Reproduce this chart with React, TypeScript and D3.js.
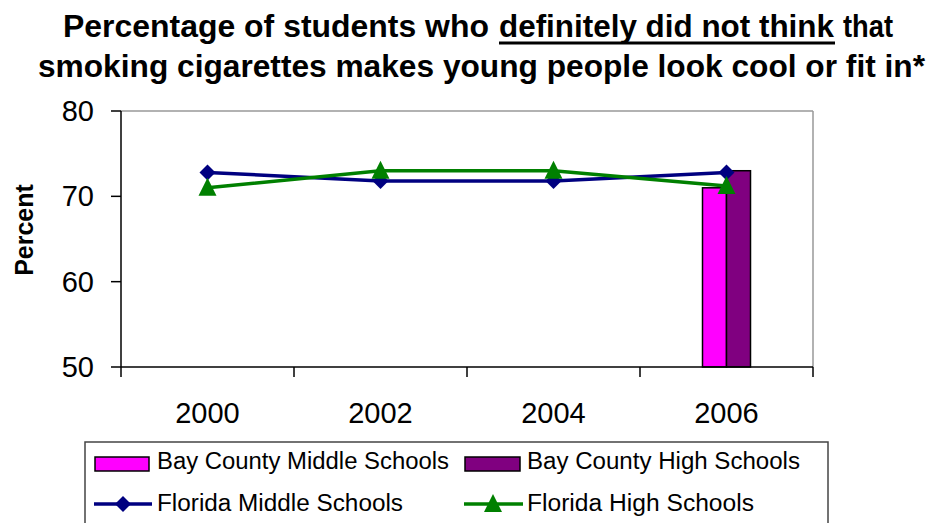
import React from "react";
import * as d3 from "d3";

const years = ["2000", "2002", "2004", "2006"];
const bayMiddle: (number | null)[] = [null, null, null, 71];
const bayHigh: (number | null)[] = [null, null, null, 73];
const flMiddle = [72.8, 71.8, 71.8, 72.8];
const flHigh = [71, 73, 73, 71.2];
const yTicks = [50, 60, 70, 80];

const W = 930, H = 523;
const L = 121, R = 813, T = 111, B = 367;
const font = "Liberation Sans, Arial, sans-serif";

export default function App() {
  const x = d3.scaleBand<string>().domain(years).range([L, R]).padding(0);
  const y = d3.scaleLinear().domain([50, 80]).range([B, T]);
  const cx = (i: number) => (x(years[i]) as number) + x.bandwidth() / 2;
  const barW = 24;
  const line = d3
    .line<number>()
    .x((_, i) => cx(i))
    .y((d) => y(d));
  const diamond = (px: number, py: number, s = 8) =>
    `M${px},${py - s}L${px + s},${py}L${px},${py + s}L${px - s},${py}Z`;
  const tri = (px: number, py: number, s = 9) =>
    `M${px},${py - s - 1}L${px + s},${py + s - 1}L${px - s},${py + s - 1}Z`;
  const tProps = { fontFamily: font, fontWeight: "bold" as const, fontSize: 31, lengthAdjust: "spacingAndGlyphs" };

  return (
    <svg width={W} height={H} style={{ position: "absolute", left: 0, top: 0, background: "#fff" }}>
      <text x={63} y={37} {...tProps} textLength={426}>Percentage of students who</text>
      <text x={499} y={37} {...tProps} textLength={335}>definitely did not think</text>
      <text x={843} y={37} {...tProps} textLength={50}>that</text>
      <line x1={499} x2={835} y1={43} y2={43} stroke="#000" strokeWidth={3} />
      <text x={38} y={77} {...tProps} textLength={887}>
        smoking cigarettes makes young people look cool or fit in*
      </text>

      {/* plot border */}
      <line x1={L} x2={R} y1={T} y2={T} stroke="#999" strokeWidth={1.5} />
      <line x1={R} x2={R} y1={T} y2={B} stroke="#999" strokeWidth={1.5} />

      {/* bars */}
      {years.map((yr, i) => (
        <g key={yr}>
          {bayMiddle[i] != null && (
            <rect x={cx(i) - barW} y={y(bayMiddle[i] as number)} width={barW} height={B - y(bayMiddle[i] as number)} fill="#FF00FF" stroke="#000" strokeWidth={1.5} />
          )}
          {bayHigh[i] != null && (
            <rect x={cx(i)} y={y(bayHigh[i] as number)} width={barW} height={B - y(bayHigh[i] as number)} fill="#800080" stroke="#000" strokeWidth={1.5} />
          )}
        </g>
      ))}

      {/* axes */}
      <line x1={L} x2={L} y1={T} y2={B} stroke="#000" strokeWidth={1.5} />
      <line x1={L} x2={R} y1={B} y2={B} stroke="#000" strokeWidth={1.5} />
      {yTicks.map((t) => (
        <g key={t}>
          <line x1={L - 10} x2={L} y1={y(t)} y2={y(t)} stroke="#000" strokeWidth={1.5} />
          <text x={94} y={y(t) + 10} textAnchor="end" fontFamily={font} fontSize={29}>
            {t}
          </text>
        </g>
      ))}
      {[...years.map((yr) => x(yr) as number), R].map((v, i) => (
        <line key={i} x1={v} x2={v} y1={B} y2={B + 10} stroke="#000" strokeWidth={1.5} />
      ))}
      {years.map((yr, i) => (
        <text key={yr} x={cx(i)} y={423} textAnchor="middle" fontFamily={font} fontSize={29}>
          {yr}
        </text>
      ))}
      <text transform="translate(33,230) rotate(-90)" textAnchor="middle" fontFamily={font} fontWeight="bold" fontSize={25}>
        Percent
      </text>

      {/* lines */}
      <path d={line(flMiddle) as string} fill="none" stroke="#000080" strokeWidth={3.5} />
      <path d={line(flHigh) as string} fill="none" stroke="#008000" strokeWidth={3.5} />
      {flMiddle.map((v, i) => (
        <path key={"m" + i} d={diamond(cx(i), y(v))} fill="#000080" />
      ))}
      {flHigh.map((v, i) => (
        <path key={"h" + i} d={tri(cx(i), y(v))} fill="#008000" />
      ))}

      {/* legend */}
      <rect x={85} y={442} width={743} height={90} fill="none" stroke="#444" strokeWidth={1.5} />
      <rect x={95} y={457} width={54} height={14} fill="#FF00FF" stroke="#000" strokeWidth={1.5} />
      <text x={157} y={469} fontFamily={font} fontSize={23} textLength={292} lengthAdjust="spacingAndGlyphs">Bay County Middle Schools</text>
      <rect x={465} y={457} width={55} height={14} fill="#800080" stroke="#000" strokeWidth={1.5} />
      <text x={527} y={469} fontFamily={font} fontSize={23} textLength={273} lengthAdjust="spacingAndGlyphs">Bay County High Schools</text>

      <line x1={94} x2={152} y1={504} y2={504} stroke="#000080" strokeWidth={3.5} />
      <path d={diamond(123, 504)} fill="#000080" />
      <text x={157} y={511} fontFamily={font} fontSize={23} textLength={246} lengthAdjust="spacingAndGlyphs">Florida Middle Schools</text>
      <line x1={464} x2={523} y1={504} y2={504} stroke="#008000" strokeWidth={3.5} />
      <path d={tri(493, 504)} fill="#008000" />
      <text x={527} y={511} fontFamily={font} fontSize={23} textLength={227} lengthAdjust="spacingAndGlyphs">Florida High Schools</text>
    </svg>
  );
}
